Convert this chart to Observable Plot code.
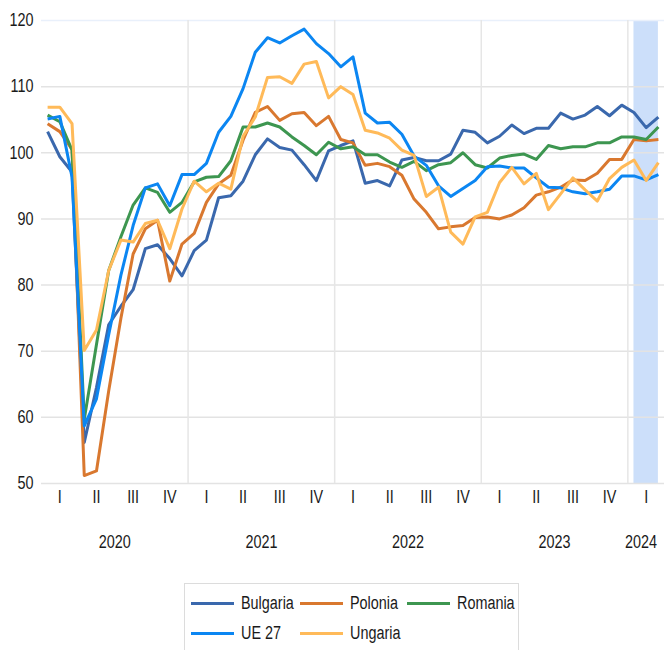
<!DOCTYPE html>
<html>
<head>
<meta charset="utf-8">
<script src="https://cdn.jsdelivr.net/npm/d3@7"></script>
<script src="https://cdn.jsdelivr.net/npm/@observablehq/plot@0.6"></script>
<style>
  body { margin: 0; background: #fff; font-family: "Liberation Sans", Arial, sans-serif; }
  #chart { position: absolute; left: 0; top: 0; }
  #chart svg { display: block; }
  .legend { position: absolute; left: 184px; top: 583px; width: 335px; height: 72px; border: 1px solid #dcdcdc; box-sizing: border-box; background: #fff;
            display: grid; grid-template-columns: 109px 107px auto; grid-auto-rows: 30px; padding: 4px 0 0 6px; }
  .item { display: flex; align-items: center; font-size: 18px; color: #1a1a1a; white-space: nowrap; }
  .swatch { width: 43px; height: 3px; margin-right: 7px; flex: none; }
  .lab { display: inline-block; transform: scaleX(0.8); transform-origin: left center; }
</style>
</head>
<body>
<div id="chart"></div>
<div class="legend" id="legend"></div>
<script>
// Years covered (monthly data Jan 2020 – Mar 2024)
const years = [2020, 2021, 2022, 2023, 2024];
const quarterLabels = ["I", "II", "III", "IV"];
const seriesNames = ["Bulgaria", "Polonia", "Romania", "UE 27", "Ungaria"];
const seriesColors = ["#3A68AD", "#D9782F", "#3D9650", "#0B86F2", "#FFBA59"];
const legendOrder = ["Bulgaria", "Polonia", "Romania", "UE 27", "Ungaria"];
// Highlighted period (first and last month shaded, as "YYYY-M")
const shadedPeriod = ["2024-1", "2024-3"];

const bulgaria = [103.2, 99.4, 97.1, 56.2, 64.5, 74.0, 76.8, 79.3, 85.5, 86.1, 84.0, 81.4,
  85.2, 86.8, 93.2, 93.5, 95.7, 99.7, 102.1, 100.8, 100.4, 98.2, 95.8, 100.3,
  101.1, 101.8, 95.4, 95.8, 95.0, 98.9, 99.3, 98.8, 98.8, 99.8, 103.4, 103.1,
  101.5, 102.5, 104.2, 102.9, 103.7, 103.7, 106.0, 105.1, 105.7, 107.0, 105.6, 107.2,
  106.1, 103.8, 105.4];
const polonia = [104.4, 103.2, 100.5, 51.2, 51.9, 64.0, 75.0, 84.7, 88.5, 89.8, 80.6, 86.2,
  87.8, 92.5, 95.3, 96.6, 101.9, 106.1, 107.0, 104.9, 105.9, 106.1, 104.1, 105.5,
  102.0, 101.5, 98.1, 98.4, 97.9, 96.6, 93.0, 91.0, 88.5, 88.8, 89.0, 90.2,
  90.3, 90.0, 90.6, 91.7, 93.6, 94.1, 94.8, 95.9, 95.8, 96.9, 99.0, 99.0,
  102.0, 101.8, 102.0];
const romania = [105.7, 104.7, 100.4, 59.7, 71.0, 82.2, 87.3, 92.1, 94.7, 94.0, 91.0, 92.5,
  95.6, 96.3, 96.4, 98.8, 103.9, 103.9, 104.5, 103.9, 102.4, 101.1, 99.7, 101.6,
  100.6, 100.9, 99.7, 99.7, 98.6, 97.8, 98.7, 97.3, 98.2, 98.5, 100.0, 98.2,
  97.7, 99.2, 99.6, 99.8, 99.0, 101.1, 100.6, 100.9, 100.9, 101.5, 101.5, 102.4,
  102.4, 102.0, 103.9];
const ue27 = [105.1, 105.5, 96.3, 58.7, 62.8, 72.5, 81.5, 89.0, 94.7, 95.3, 92.0, 96.7,
  96.7, 98.4, 103.1, 105.5, 109.7, 115.2, 117.4, 116.6, 117.7, 118.7, 116.5, 115.0,
  113.0, 114.5, 106.0, 104.5, 104.6, 102.8, 99.5, 98.1, 95.0, 93.4, 94.6, 95.8,
  97.9, 98.0, 97.7, 97.7, 96.2, 94.8, 94.7, 94.1, 93.8, 94.1, 94.5, 96.5,
  96.5, 95.9, 96.7];
const ungaria = [106.9, 106.9, 104.4, 70.1, 73.2, 82.2, 86.8, 86.5, 89.3, 89.8, 85.5, 91.5,
  95.7, 94.1, 95.4, 94.5, 102.5, 105.4, 111.4, 111.5, 110.5, 113.4, 113.8, 108.3,
  110.0, 108.8, 103.4, 103.0, 102.2, 100.4, 99.6, 93.4, 94.8, 88.0, 86.2, 90.3,
  91.0, 95.5, 97.8, 95.3, 96.9, 91.4, 93.8, 96.2, 94.4, 92.7, 96.1, 97.8,
  98.9, 95.8, 98.5];
const yTicks = [50, 60, 70, 80, 90, 100, 110, 120];

// ---- build tables ----
const seriesValues = [bulgaria, polonia, romania, ue27, ungaria];
const monthCount = bulgaria.length;
const monthKey = i => `${years[0] + Math.floor(i / 12)}-${(i % 12) + 1}`;
const monthIndex = key => d3.range(monthCount).find(i => monthKey(i) === key);

const rows = seriesNames.flatMap((name, s) =>
  seriesValues[s].map((v, i) => ({series: name, i, v})));

const quarterTicks = [];
const yearTicks = [];
years.forEach((yr, k) => {
  const first = k * 12;
  if (first >= monthCount) return;
  const last = Math.min(first + 11, monthCount - 1);
  quarterLabels.forEach((q, qi) => {
    const mid = first + qi * 3 + 1;
    if (mid < monthCount) quarterTicks.push({x: mid, label: q});
  });
  yearTicks.push({x: (first + last) / 2, label: String(yr)});
});
const yearBoundaries = years.slice(1).map((_, k) => (k + 1) * 12 - 0.5).filter(b => b < monthCount - 0.5);
const shade = [{x1: monthIndex(shadedPeriod[0]), x2: monthIndex(shadedPeriod[1])}];
const [yMin, yMax] = d3.extent(yTicks);

const FONT = '"Liberation Sans", Arial, sans-serif';
const chart = Plot.plot({
  width: 664,
  height: 570,
  marginLeft: 41,
  marginRight: 0,
  marginTop: 20,
  marginBottom: 87,
  style: {fontFamily: FONT, fontSize: "18px", color: "#1a1a1a", background: "#fff"},
  x: {domain: [-0.5, monthCount - 0.5], axis: null},
  y: {domain: [yMin, yMax], axis: null},
  color: {domain: seriesNames, range: seriesColors},
  marks: [
    Plot.rect(shade, {x1: "x1", x2: "x2", y1: yMin, y2: yMax, fill: "#CCDFFA"}),
    Plot.ruleY(yTicks.filter(t => t < yMax), {stroke: "#e3e3e3", strokeWidth: 1.5}),
    Plot.ruleY([yMax], {stroke: "#e9f0fb", strokeWidth: 1.5}),
    Plot.ruleX(yearBoundaries, {y1: yMin, y2: yMax, stroke: "#e6e6e6", strokeWidth: 1.5}),
    Plot.line(rows, {x: "i", y: "v", z: "series", stroke: "series", strokeWidth: 3, strokeLinejoin: "round", strokeLinecap: "butt"}),
    Plot.axisY(yTicks, {tickSize: 0, tickPadding: 8, fontSize: 18, label: null, tickFormat: d => String(d)}),
    Plot.text(quarterTicks, {x: "x", text: "label", frameAnchor: "bottom", dy: 19, fontSize: 18, fill: "#1a1a1a"}),
    Plot.text(yearTicks, {x: "x", text: "label", frameAnchor: "bottom", dy: 64, fontSize: 18, fill: "#1a1a1a"})
  ]
});
document.getElementById("chart").appendChild(chart);

// condense all chart texts horizontally around their anchor (narrow, tall lettering as in the original)
const SQUEEZE = 0.8;
const LIMIT = 657;
chart.querySelectorAll("text").forEach(t => {
  const tr = t.getAttribute("transform") || "";
  t.setAttribute("transform", `${tr} scale(${SQUEEZE},1)`);
  const r = t.getBoundingClientRect();
  if (r.right > LIMIT) {
    const shift = (r.right - LIMIT) / SQUEEZE;
    t.setAttribute("dx", String((Number(t.getAttribute("dx")) || 0) - shift));
  }
});

// ---- legend ----
const legend = document.getElementById("legend");
legendOrder.forEach(name => {
  const s = seriesNames.indexOf(name);
  const item = document.createElement("div");
  item.className = "item";
  const sw = document.createElement("span");
  sw.className = "swatch";
  sw.style.background = seriesColors[s];
  const label = document.createElement("span");
  label.className = "lab";
  label.textContent = name;
  item.appendChild(sw);
  item.appendChild(label);
  legend.appendChild(item);
});
</script>
</body>
</html>
